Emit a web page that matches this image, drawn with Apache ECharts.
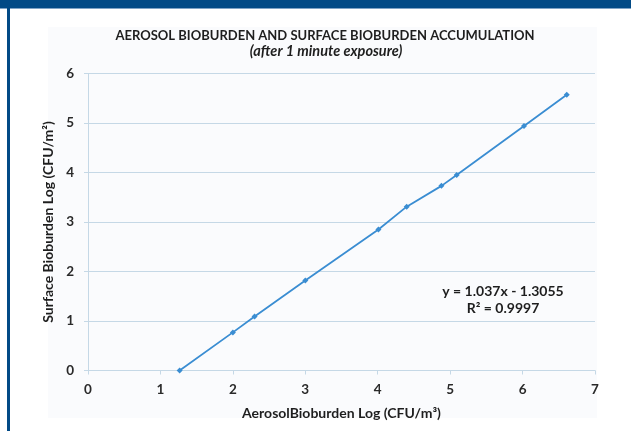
<!DOCTYPE html>
<html>
<head>
<meta charset="utf-8">
<script src="https://cdn.jsdelivr.net/npm/echarts@6/dist/echarts.min.js"></script>
<style>html,body{margin:0;padding:0;background:#fff}#c{width:631px;height:431px}</style>
</head>
<body>
<div id="c"></div>
<script>
// Data
var aerosolLog = [1.265, 2.0, 2.30, 3.0, 4.01, 4.40, 4.88, 5.09, 6.02, 6.61];
var surfaceLog = [0.0, 0.77, 1.09, 1.82, 2.85, 3.31, 3.73, 3.95, 4.94, 5.57];
var xTicks = [0, 1, 2, 3, 4, 5, 6, 7];
var yTicks = [0, 1, 2, 3, 4, 5, 6];
var titleText = 'AEROSOL BIOBURDEN AND SURFACE BIOBURDEN ACCUMULATION';
var subtitleText = '(after 1 minute exposure)';
var xName = 'AerosolBioburden Log (CFU/m\u00b3)';
var yName = 'Surface Bioburden Log (CFU/m\u00b2)';
var eqLines = ['y = 1.037x - 1.3055', 'R\u00b2 = 0.9997'];

var pts = aerosolLog.map(function (x, i) { return [x, surfaceLog[i]]; });
var FONT = 'Lato';
var chart = echarts.init(document.getElementById('c'));
chart.setOption({
  backgroundColor: '#ffffff',
  animation: false,
  title: [
    { text: titleText, left: 320, top: 24, textAlign: 'center',
      textStyle: { fontFamily: FONT, fontWeight: 'bold', fontSize: 13, color: '#1e1e1e' } },
    { text: subtitleText, left: 321, top: 39, textAlign: 'center',
      textStyle: { fontFamily: FONT, fontWeight: 'bold', fontStyle: 'italic', fontSize: 14.5, color: '#1e1e1e' } }
  ],
  graphic: [
    { type: 'rect', z: -10, shape: { x: 48, y: 27, width: 549, height: 391 }, style: { fill: '#fafbfd' } },
    { type: 'rect', z: 10, shape: { x: 0, y: 0, width: 631, height: 8 }, style: { fill: '#024a86' } },
    { type: 'rect', z: 10, shape: { x: 0, y: 8, width: 631, height: 1 }, style: { fill: '#7fa3c6' } },
    { type: 'rect', z: 10, shape: { x: 7, y: 0, width: 3, height: 431 }, style: { fill: '#024a86' } },
    { type: 'text', z: 10, x: 503, y: 291, style: { text: eqLines[0], font: 'bold 14px Lato', fill: '#1e1e1e', align: 'center', verticalAlign: 'middle' } },
    { type: 'text', z: 10, x: 503, y: 308, style: { text: eqLines[1], font: 'bold 14px Lato', fill: '#1e1e1e', align: 'center', verticalAlign: 'middle' } }
  ],
  grid: { left: 88, top: 73.5, width: 507, height: 297, containLabel: false },
  xAxis: {
    type: 'value', min: xTicks[0], max: xTicks[xTicks.length - 1], interval: 1,
    name: xName, nameLocation: 'middle', nameGap: 36,
    nameTextStyle: { fontFamily: FONT, fontWeight: 'bold', fontSize: 14, color: '#1e1e1e' },
    axisLine: { show: true, lineStyle: { color: '#c5d8e6', width: 1 } },
    axisTick: { show: true, length: 4, lineStyle: { color: '#c5d8e6' } },
    axisLabel: { margin: 12, fontFamily: FONT, fontWeight: 'bold', fontSize: 13.5, color: '#2a2a2a' },
    splitLine: { show: false }
  },
  yAxis: {
    type: 'value', min: yTicks[0], max: yTicks[yTicks.length - 1], interval: 1,
    name: yName, nameLocation: 'middle', nameGap: 31, nameRotate: 90,
    nameTextStyle: { fontFamily: FONT, fontWeight: 'bold', fontSize: 14, color: '#1e1e1e' },
    axisLine: { show: true, lineStyle: { color: '#c5d8e6', width: 1 } },
    axisTick: { show: true, length: 4, lineStyle: { color: '#c5d8e6' } },
    axisLabel: { margin: 14, fontFamily: FONT, fontWeight: 'bold', fontSize: 13.5, color: '#2a2a2a' },
    splitLine: { show: true, lineStyle: { color: '#c5d8e6', width: 1 } }
  },
  series: [{
    type: 'line', data: pts,
    symbol: 'diamond', symbolSize: 6,
    lineStyle: { color: '#3a8dd2', width: 1.8 },
    itemStyle: { color: '#3a8dd2' }
  }]
});
</script>
</body>
</html>
